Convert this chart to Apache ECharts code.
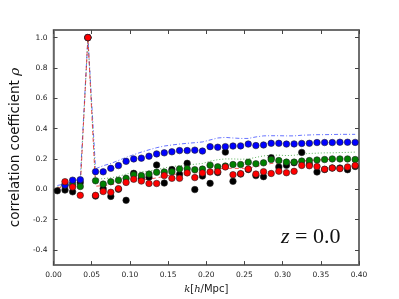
<!DOCTYPE html>
<html><head><meta charset="utf-8">
<script src="https://cdn.jsdelivr.net/npm/echarts@6/dist/echarts.min.js"></script>
<style>html,body{margin:0;padding:0;background:#fff}#c{width:399px;height:299px}</style>
</head><body><div id="c"></div>
<script>
var kValues = [0.005,0.015,0.025,0.035,0.045,0.055,0.065,0.075,0.085,0.095,
  0.105,0.115,0.125,0.135,0.145,0.155,0.165,0.175,0.185,0.195,
  0.205,0.215,0.225,0.235,0.245,0.255,0.265,0.275,0.285,0.295,
  0.305,0.315,0.325,0.335,0.345,0.355,0.365,0.375,0.385,0.395];
var blueDots = [null,0.028,0.06,0.063,1.0,0.116,0.115,0.138,0.156,0.184,
  0.2,0.205,0.218,0.233,0.24,0.247,0.255,0.255,0.258,0.252,
  0.281,0.277,0.281,0.285,0.286,0.298,0.288,0.292,0.303,0.303,
  0.298,0.299,0.302,0.303,0.308,0.308,0.308,0.31,0.31,0.309];
var greenDots = [null,0.028,0.034,0.018,1.0,0.056,0.034,0.05,0.06,0.072,
  0.095,0.09,0.1,0.112,0.114,0.115,0.134,0.136,0.129,0.133,
  0.159,0.148,0.153,0.163,0.163,0.178,0.168,0.174,0.196,0.189,
  0.179,0.179,0.186,0.189,0.193,0.196,0.2,0.2,0.2,0.196];
var redDots = [null,0.05,0.015,-0.04,1.0,-0.04,-0.015,-0.02,0.004,0.045,
  0.066,0.054,0.038,0.038,0.09,0.072,0.072,0.108,0.077,0.108,
  0.114,0.116,0.147,0.096,0.103,0.133,0.1,0.116,0.104,0.119,
  0.109,0.118,0.157,0.155,0.15,0.132,0.14,0.136,0.147,0.157];
var blackDots = [-0.01,-0.005,-0.017,0.045,1.0,-0.045,0.003,-0.047,0.0,-0.073,
  0.105,0.073,0.08,0.16,0.041,0.13,0.098,0.171,-0.002,0.087,
  0.039,0.11,0.245,0.052,0.1,0.13,0.09,0.083,0.208,0.147,
  0.158,0.175,0.243,0.165,0.114,0.13,0.14,0.14,0.129,0.15];
var blueLine = [0.025,0.035,0.05,0.07,1.0,0.135,0.155,0.17,0.19,0.21,
  0.228,0.245,0.26,0.274,0.285,0.292,0.298,0.303,0.307,0.312,
  0.325,0.338,0.342,0.338,0.335,0.335,0.345,0.352,0.353,0.353,
  0.352,0.352,0.356,0.358,0.36,0.36,0.361,0.362,0.362,0.362];
var greenLine = [0.015,0.02,0.025,0.03,1.0,0.065,0.07,0.075,0.085,0.1,
  0.11,0.115,0.12,0.13,0.14,0.15,0.155,0.16,0.165,0.17,
  0.185,0.195,0.2,0.2,0.198,0.2,0.21,0.22,0.225,0.225,
  0.222,0.224,0.232,0.236,0.238,0.24,0.24,0.242,0.243,0.245];
var redLine = [0.012,0.012,0.014,0.016,1.0,0.02,0.024,0.03,0.038,0.045,
  0.055,0.06,0.067,0.075,0.085,0.095,0.105,0.108,0.108,0.11,
  0.125,0.135,0.138,0.138,0.137,0.14,0.15,0.16,0.17,0.174,
  0.175,0.178,0.185,0.19,0.193,0.195,0.198,0.2,0.203,0.206];
var yTicks = [-0.4,-0.2,0.0,0.2,0.4,0.6,0.8,1.0];

function pairs(ys){ return kValues.map(function(k,i){ return [k, ys[i]]; }); }

var chart = echarts.init(document.getElementById('c'), null, {renderer:'canvas'});
var frame = {show:true, onZero:false, lineStyle:{color:'#666', width:1.5}};
var tick = {show:true, inside:true, length:4, lineStyle:{color:'#444', width:1}};
var lbl = {fontFamily:'DejaVu Sans', fontSize:7.5, color:'#222'};
function lineSeries(data, color, type){
  return {type:'line', data:pairs(data), showSymbol:false, symbol:'none', silent:true,
    lineStyle:{color:color, width:1, type:type, opacity:0.75}, z:2};
}
function dotSeries(data, color){
  return {type:'scatter', data:pairs(data), symbol:'circle', symbolSize:6.5, silent:true,
    itemStyle:{color:color, borderColor:'#222', borderWidth:0.6, opacity:1}, z:3};
}
chart.setOption({
  animation:false,
  grid:{left:50, right:40, top:30, bottom:31, show:true, borderColor:'#666', borderWidth:1.5, backgroundColor:'transparent'},
  xAxis:[
    {type:'value', min:0, max:0.4, interval:0.05, position:'bottom',
     axisLine:frame, axisTick:tick, splitLine:{show:false},
     axisLabel:Object.assign({formatter:function(v){return v.toFixed(2);}, margin:6}, lbl),
     name:'{i|k}[{i|h}/Mpc]', nameLocation:'middle', nameGap:14,
     nameTextStyle:{fontFamily:'DejaVu Sans', fontSize:10, color:'#222',
       rich:{i:{fontFamily:'DejaVu Serif', fontStyle:'italic', fontSize:10, color:'#222'}}}},
    {type:'value', min:0, max:0.4, interval:0.05, position:'top',
     axisLine:frame, axisTick:tick, axisLabel:{show:false}, splitLine:{show:false}}
  ],
  yAxis:[
    {type:'value', min:-0.5, max:1.05, position:'left',
     axisLine:frame, splitLine:{show:false},
     axisTick:Object.assign({customValues:yTicks}, tick),
     axisLabel:Object.assign({customValues:yTicks, margin:6,
       formatter:function(v){return v.toFixed(1);}}, lbl),
     name:'correlation coefficient {i|ρ}', nameLocation:'middle', nameGap:26,
     nameTextStyle:{fontFamily:'DejaVu Sans', fontSize:13.5, color:'#111',
       rich:{i:{fontFamily:'DejaVu Serif', fontStyle:'italic', fontSize:13.5, color:'#111'}}}},
    {type:'value', min:-0.5, max:1.05, position:'right',
     axisLine:frame, splitLine:{show:false},
     axisTick:Object.assign({customValues:yTicks}, tick), axisLabel:{show:false}}
  ],
  graphic:[{type:'text', left:281, top:226, silent:true,
    style:{text:'{i|z}{n| = 0.0}', rich:{
      i:{fontFamily:'Liberation Serif', fontStyle:'italic', fontSize:22, fill:'#111'},
      n:{fontFamily:'Liberation Serif', fontSize:22, fill:'#111'}}}}],
  series:[
    {type:'scatter', xAxisIndex:1, yAxisIndex:1, data:[], silent:true},
    lineSeries(blueLine, '#3344ff', [4,2,1,2]),
    lineSeries(greenLine, '#2a9a2a', [1,2]),
    lineSeries(redLine, '#ee2222', [4,3]),
    dotSeries(blackDots, '#000000'),
    dotSeries(greenDots, '#008000'),
    dotSeries(blueDots, '#0000ff'),
    dotSeries(redDots, '#ff0000')
  ]
});
</script></body></html>
